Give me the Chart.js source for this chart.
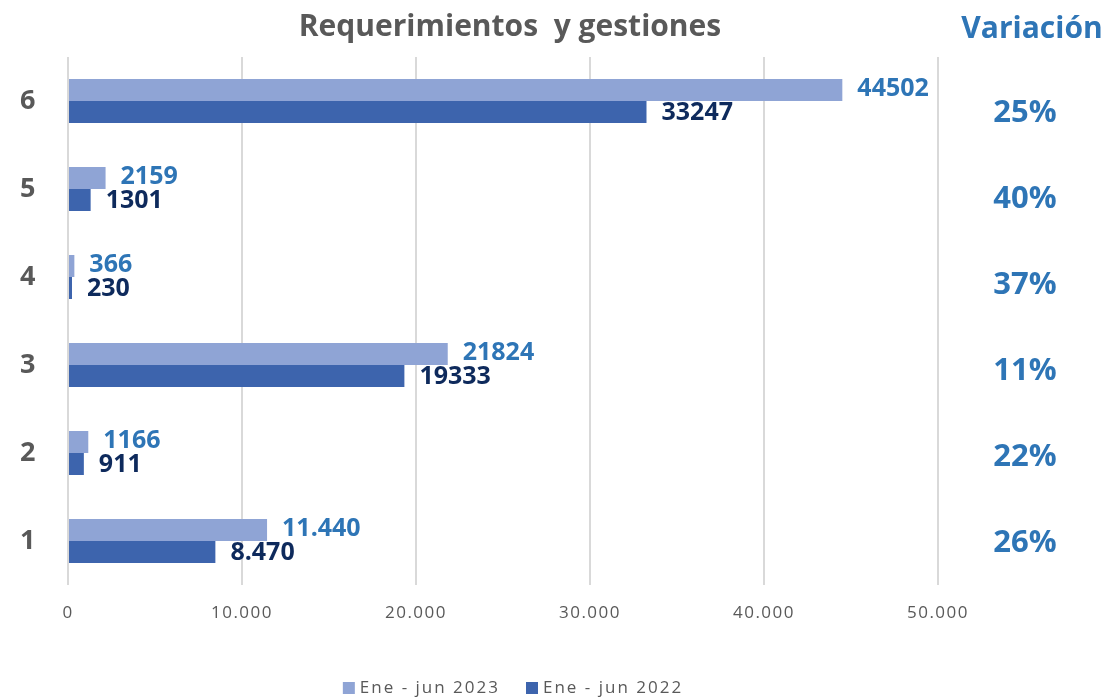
<!DOCTYPE html>
<html><head><meta charset="utf-8">
<script src="https://cdn.jsdelivr.net/npm/chart.js@4.4.0/dist/chart.umd.min.js"></script>
<style>html,body{margin:0;padding:0;background:#fff;overflow:hidden}#wrap{position:relative;width:1111px;height:698px}</style>
</head><body><div id="wrap"><canvas id="c" width="1111" height="698"></canvas></div>
<script>
const categories = ['1','2','3','4','5','6'];
const values2023 = [11440, 1166, 21824, 366, 2159, 44502];
const values2022 = [8470, 911, 19333, 230, 1301, 33247];
const labels2023 = ['11.440','1166','21824','366','2159','44502'];
const labels2022 = ['8.470','911','19333','230','1301','33247'];
const variation = ['26%','22%','11%','37%','40%','25%'];
const xTicks = [0, 10000, 20000, 30000, 40000, 50000];
const seriesNames = ['Ene - jun 2023','Ene - jun 2022'];
const chartTitle = 'Requerimientos  y gestiones';
const variationTitle = 'Variación';

const GRAY = '#595959';
const BLUE = '#2E75B6';
const NAVY = '#0E2A5C';
const LIGHT = '#8FA4D5';
const DARK = '#3D64AD';
const FONT = "'Open Sans', 'Noto Sans', sans-serif";

function fmt(v){ return String(v).replace(/\B(?=(\d{3})+(?!\d))/g, '.'); }

const extras = {
  id: 'extras',
  beforeDraw(chart){ chart.ctx.letterSpacing = '1.5px'; },
  beforeDatasetsDraw(chart){ chart.ctx.letterSpacing = '0px'; },
  afterDatasetsDraw(chart){
    const ctx = chart.ctx;
    ctx.save();
    ctx.letterSpacing = '0px';
    ctx.textBaseline = 'middle';
    ctx.textAlign = 'left';
    ctx.font = "bold 25px " + FONT;
    const lbls = [labels2023, labels2022];
    const cols = [BLUE, NAVY];
    const dys = [-1, 1];
    chart.data.datasets.forEach((ds, i) => {
      const meta = chart.getDatasetMeta(i);
      ctx.fillStyle = cols[i];
      meta.data.forEach((el, j) => {
        ctx.fillText(lbls[i][j], el.x + 15, el.y + dys[i]);
      });
    });
    // variation column
    const ys = chart.scales.y;
    ctx.textAlign = 'center';
    ctx.fillStyle = BLUE;
    ctx.font = "bold 31px " + FONT;
    variation.forEach((t, j) => {
      ctx.fillText(t, 1025, ys.getPixelForValue(j) + 2 + 2 * j);
    });
    ctx.font = "bold 30px " + FONT;
    ctx.fillText(variationTitle, 1032, 29);
    // title
    ctx.fillStyle = GRAY;
    ctx.fillText(chartTitle, 510, 27);
    // legend
    ctx.font = "17px " + FONT;
    ctx.letterSpacing = '2px';
    const items = chart.data.datasets.map(d => ({text: d.label, color: d.backgroundColor}));
    const box = 12, gap = 5, itemGap = 26;
    const widths = items.map(it => box + gap + ctx.measureText(it.text).width);
    const total = widths.reduce((a,b)=>a+b,0) + itemGap*(items.length-1);
    let x = 513 - total/2;
    const ly = 688;
    ctx.textAlign = 'left';
    items.forEach((it, k) => {
      ctx.fillStyle = it.color;
      ctx.fillRect(x, ly - box/2, box, box);
      ctx.fillStyle = GRAY;
      ctx.fillText(it.text, x + box + gap, ly);
      x += widths[k] + itemGap;
    });
    ctx.restore();
  }
};

new Chart(document.getElementById('c'), {
  type: 'bar',
  data: {
    labels: categories,
    datasets: [
      { label: seriesNames[0], data: values2023, backgroundColor: LIGHT },
      { label: seriesNames[1], data: values2022, backgroundColor: DARK }
    ]
  },
  options: {
    indexAxis: 'y',
    responsive: false,
    animation: false,
    devicePixelRatio: 1,
    datasets: { bar: { categoryPercentage: 0.5, barPercentage: 1.0 } },
    layout: { padding: { left: 0, right: 173, top: 57, bottom: 69 } },
    plugins: { legend: { display: false }, title: { display: false }, tooltip: { enabled: false } },
    scales: {
      x: {
        min: 0, max: 50000,
        afterBuildTicks(scale){ scale.ticks = xTicks.map(v => ({value: v})); },
        afterFit(scale){ scale.height = 44; },
        grid: { color: '#d9d9d9', lineWidth: 2, drawTicks: false },
        border: { display: false },
        ticks: { padding: 18, color: GRAY, font: { family: FONT, size: 17 }, callback: v => fmt(v), maxRotation: 0 }
      },
      y: {
        reverse: true,
        afterFit(scale){ scale.width = 68; },
        grid: { display: false, drawTicks: false },
        border: { display: false },
        ticks: { padding: 31, color: GRAY, font: { family: FONT, size: 27, weight: 'bold' } }
      }
    }
  },
  plugins: [extras]
});
</script></body></html>
